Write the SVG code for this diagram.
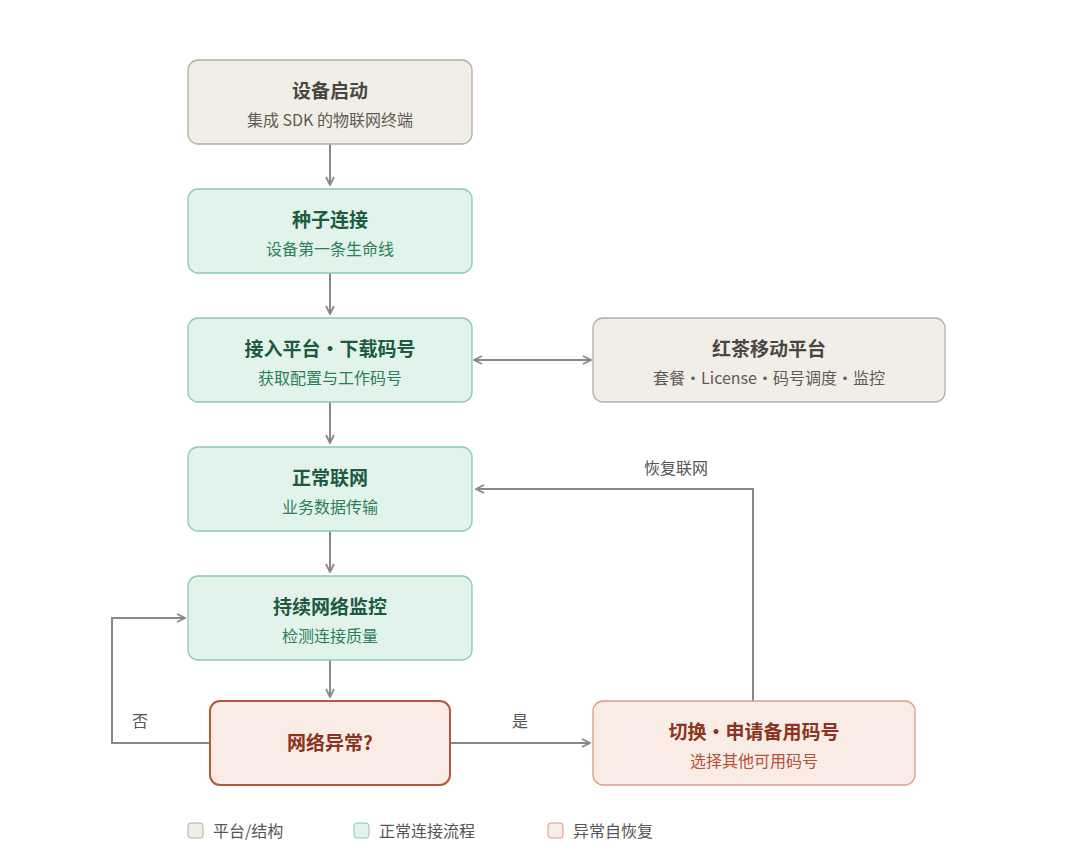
<svg xmlns="http://www.w3.org/2000/svg" width="1080" height="863" viewBox="0 0 1080 863">
<style>
text{font-family:"Noto Sans CJK SC","Noto Sans",sans-serif;text-anchor:middle}
.t{font-size:19px;font-weight:bold}
.s{font-size:16px}
.g rect{fill:#f1eee8;stroke:#b3aea6;stroke-width:1.3}
.g .t{fill:#4a4742}.g .s{fill:#5e5a55}
.n rect{fill:#e1f3eb;stroke:#8fc8b0;stroke-width:1.3}
.n .t{fill:#1d5a40}.n .s{fill:#2f7d5c}
.r rect{fill:#f9ebe5;stroke:#dc9c86;stroke-width:1.3}
.r .t{fill:#8a3420}.r .s{fill:#b5503a}
.c path{fill:none;stroke:#8a8884;stroke-width:2}
.lb{font-size:16px;fill:#555}
.lg{font-size:16px;fill:#555;text-anchor:start}
</style>
<defs><marker id="a" viewBox="0 0 10 10" refX="9" refY="5" markerWidth="10" markerHeight="10" markerUnits="userSpaceOnUse" orient="auto-start-reverse"><path d="M1,1 L9,5 L1,9" fill="none" stroke="#8a8884" stroke-width="1.8"/></marker></defs>
<rect width="1080" height="863" fill="#fff"/>
<g class="c">
<path d="M330,144 V185" marker-end="url(#a)"/>
<path d="M330,273 V314" marker-end="url(#a)"/>
<path d="M330,402 V443" marker-end="url(#a)"/>
<path d="M330,531 V572" marker-end="url(#a)"/>
<path d="M330,660 V697" marker-end="url(#a)"/>
<path d="M474,360 H591" marker-start="url(#a)" marker-end="url(#a)"/>
<path d="M210,743 H112 V618 H185" marker-end="url(#a)"/>
<path d="M450,743 H590" marker-end="url(#a)"/>
<path d="M753,701 V489 H476" marker-end="url(#a)"/>
</g>
<text class="lb" x="140" y="727">否</text>
<text class="lb" x="520" y="727">是</text>
<text class="lb" x="676" y="474">恢复联网</text>
<g id="n1" class="g"><rect x="188" y="60" width="284" height="84" rx="10"/><text class="t" x="330" y="98">设备启动</text><text class="s" x="330" y="126">集成 SDK 的物联网终端</text></g>
<g id="n2" class="n"><rect x="188" y="189" width="284" height="84" rx="10"/><text class="t" x="330" y="227">种子连接</text><text class="s" x="330" y="255">设备第一条生命线</text></g>
<g id="n3" class="n"><rect x="188" y="318" width="284" height="84" rx="10"/><text class="t" x="330" y="356">接入平台·下载码号</text><text class="s" x="330" y="384">获取配置与工作码号</text></g>
<g id="n4" class="g"><rect x="593" y="318" width="352" height="84" rx="10"/><text class="t" x="769" y="356">红茶移动平台</text><text class="s" x="769" y="384">套餐·License·码号调度·监控</text></g>
<g id="n5" class="n"><rect x="188" y="447" width="284" height="84" rx="10"/><text class="t" x="330" y="485">正常联网</text><text class="s" x="330" y="513">业务数据传输</text></g>
<g id="n6" class="n"><rect x="188" y="576" width="284" height="84" rx="10"/><text class="t" x="330" y="614">持续网络监控</text><text class="s" x="330" y="642">检测连接质量</text></g>
<g id="n7" class="r"><rect x="210" y="701" width="240" height="84" rx="10" style="stroke:#b4583c;stroke-width:2"/><text class="t" x="330" y="750">网络异常?</text></g>
<g id="n8" class="r"><rect x="593" y="701" width="322" height="84" rx="10"/><text class="t" x="754" y="739">切换·申请备用码号</text><text class="s" x="754" y="767">选择其他可用码号</text></g>
<g id="legend">
<rect x="188" y="823" width="15" height="15" rx="3" fill="#f1eee8" stroke="#b3aea6"/><text class="lg" x="213" y="837">平台/结构</text>
<rect x="354" y="823" width="15" height="15" rx="3" fill="#e1f3eb" stroke="#8fc8b0"/><text class="lg" x="379" y="837">正常连接流程</text>
<rect x="548" y="823" width="15" height="15" rx="3" fill="#f9ebe5" stroke="#dc9c86"/><text class="lg" x="573" y="837">异常自恢复</text>
</g>
</svg>
